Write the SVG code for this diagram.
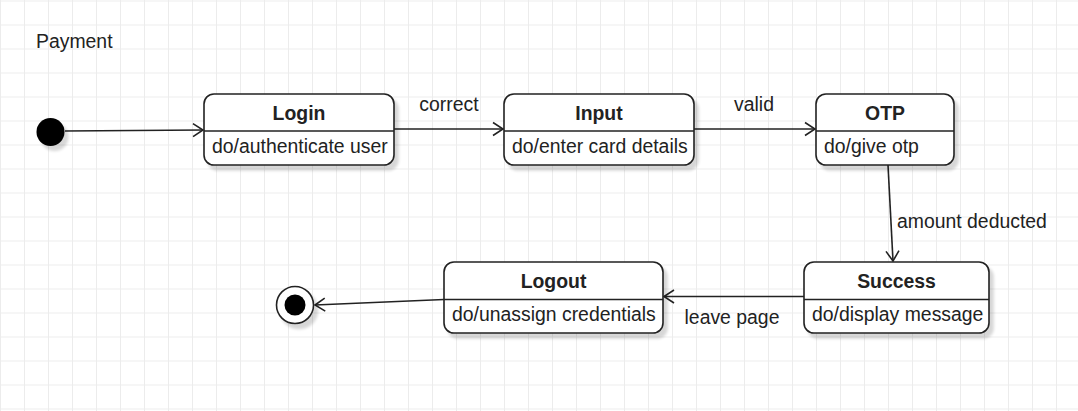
<svg xmlns="http://www.w3.org/2000/svg" width="1078" height="411" viewBox="0 0 1078 411">
  <defs>
    <pattern id="grid" width="24" height="24" patternUnits="userSpaceOnUse" x="0" y="0.5">
      <path d="M0.5 0 V24 M0 0.5 H24" fill="none" stroke="#ececec" stroke-width="1"/>
    </pattern>
    <filter id="shadow" x="-10%" y="-10%" width="130%" height="140%">
      <feGaussianBlur in="SourceAlpha" stdDeviation="1.5"/>
      <feOffset dx="4" dy="5" result="b"/>
      <feComponentTransfer><feFuncA type="linear" slope="0.16"/></feComponentTransfer>
      <feMerge><feMergeNode/><feMergeNode in="SourceGraphic"/></feMerge>
    </filter>
    <marker id="arrow" markerUnits="userSpaceOnUse" markerWidth="14" markerHeight="16" viewBox="-11 -8 14 16" refX="0" refY="0" orient="auto">
      <path d="M-10,-6.5 L0,0 L-10,6.5" fill="none" stroke="#222" stroke-width="1.6"/>
    </marker>
  </defs>
  <style>
    text { font-family: "Liberation Sans", Arial, sans-serif; font-size: 19.4px; fill: #222; }
    .title { font-weight: bold; text-anchor: middle; }
    .lbl { text-anchor: middle; }
    .box { fill: #ffffff; stroke: #222; stroke-width: 1.6; }
    .div { stroke: #222; stroke-width: 1.6; }
    .edge { fill: none; stroke: #222; stroke-width: 1.6; marker-end: url(#arrow); }
  </style>
  <rect width="1078" height="411" fill="#ffffff"/>
  <rect width="1078" height="411" fill="url(#grid)"/>

  <text x="36" y="48">Payment</text>

  <g id="connectors">
    <path class="edge" d="M65 131 L203 130"/>
    <path class="edge" d="M394 129 L503 129"/>
    <path class="edge" d="M694 129 L815 129"/>
    <path class="edge" d="M888 165 L893 261"/>
    <path class="edge" d="M804 296.5 L664 296.5"/>
    <path class="edge" d="M444 299.5 L315 305"/>
    <text class="lbl" x="449" y="111">correct</text>
    <text class="lbl" x="754" y="111">valid</text>
    <text x="897" y="228">amount deducted</text>
    <text class="lbl" x="732" y="324">leave page</text>
  </g>

  <g id="start">
    <circle cx="50.5" cy="132" r="14" fill="#000" filter="url(#shadow)"/>
  </g>

  <g id="login">
    <rect class="box" x="204" y="94" width="190" height="71" rx="10" filter="url(#shadow)"/>
    <line class="div" x1="204" y1="131" x2="394" y2="131"/>
    <text class="title" x="299" y="119.5">Login</text>
    <text x="212" y="152.5">do/authenticate user</text>
  </g>

  <g id="input">
    <rect class="box" x="504" y="94" width="190" height="71" rx="10" filter="url(#shadow)"/>
    <line class="div" x1="504" y1="131" x2="694" y2="131"/>
    <text class="title" x="599" y="119.5">Input</text>
    <text x="512" y="152.5">do/enter card details</text>
  </g>

  <g id="otp">
    <rect class="box" x="816" y="94" width="138" height="71" rx="10" filter="url(#shadow)"/>
    <line class="div" x1="816" y1="131" x2="954" y2="131"/>
    <text class="title" x="885" y="119.5">OTP</text>
    <text x="824" y="152.5">do/give otp</text>
  </g>

  <g id="success">
    <rect class="box" x="804" y="262" width="185" height="71" rx="10" filter="url(#shadow)"/>
    <line class="div" x1="804" y1="299.5" x2="989" y2="299.5"/>
    <text class="title" x="896.5" y="287.5">Success</text>
    <text x="812" y="320.5">do/display message</text>
  </g>

  <g id="logout">
    <rect class="box" x="444" y="262" width="219" height="71" rx="10" filter="url(#shadow)"/>
    <line class="div" x1="444" y1="299.5" x2="663" y2="299.5"/>
    <text class="title" x="553.5" y="287.5">Logout</text>
    <text x="452" y="320.5">do/unassign credentials</text>
  </g>

  <g id="end">
    <circle cx="295" cy="305" r="18.5" fill="#fff" stroke="#222" stroke-width="1.6" filter="url(#shadow)"/>
    <circle cx="295" cy="305" r="10.5" fill="#000"/>
  </g>
</svg>
